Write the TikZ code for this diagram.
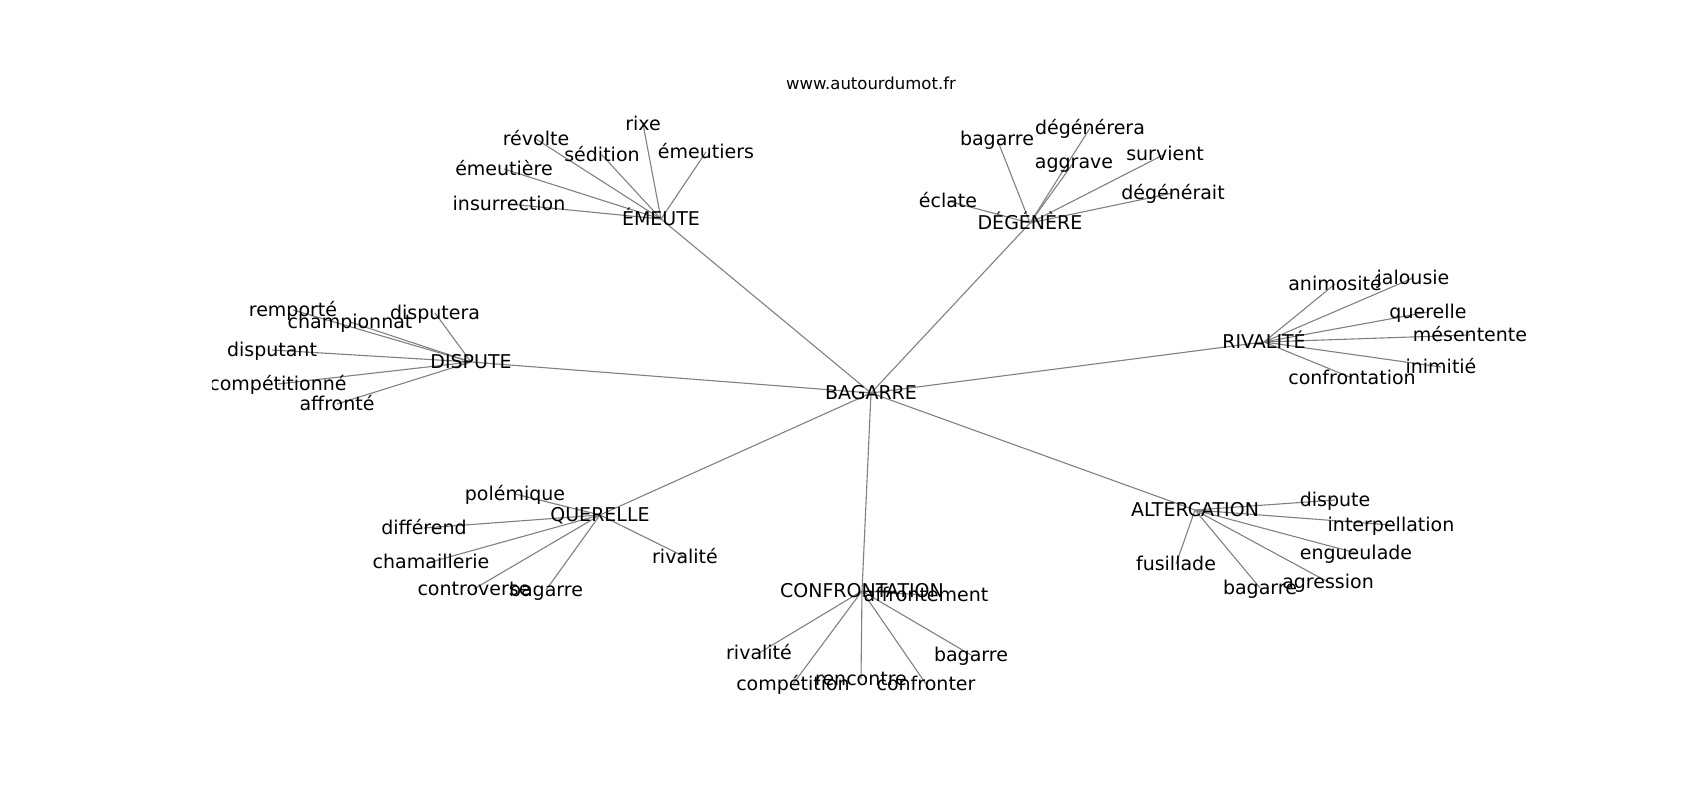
\documentclass[tikz,border=0pt]{standalone}
\usepackage{fontspec}
\setmainfont{DejaVu Sans}
\usetikzlibrary{backgrounds}
\tikzset{
  lbl/.style={inner sep=0pt, anchor=center, text height=1.42em, text depth=0.16em, font=\fontsize{19}{23}\selectfont, text=black},
  ttl/.style={inner sep=0pt, anchor=center, text height=1.36em, text depth=0.16em, font=\fontsize{16.5}{20}\selectfont, text=black},
  edge/.style={draw={rgb,255:red,128;green,128;blue,128}, line width=1.1pt}
}
\begin{document}
\begin{tikzpicture}[x=1pt,y=-1pt]
\useasboundingbox (0,0) rectangle (1700,800);
\node[ttl] (title) at (871,83) {www.autourdumot.fr};
\begin{scope}
\clip (212.5,96) rectangle (1530,712);
% centre and hubs
\node[lbl] (B) at (871,393) {BAGARRE};
\node[lbl] (E) at (661,219) {ÉMEUTE};
\node[lbl] (D) at (1030,223) {DÉGÉNÈRE};
\node[lbl] (DI) at (471,362) {DISPUTE};
\node[lbl] (R) at (1264,342) {RIVALITÉ};
\node[lbl] (Q) at (600,515) {QUERELLE};
\node[lbl] (C) at (862,591) {CONFRONTATION};
\node[lbl] (A) at (1195,510) {ALTERCATION};
% ÉMEUTE
\node[lbl] (e1) at (643,124) {rixe};
\node[lbl] (e2) at (536,139) {révolte};
\node[lbl] (e3) at (602,155) {sédition};
\node[lbl] (e4) at (706,152) {émeutiers};
\node[lbl] (e5) at (504,169) {émeutière};
\node[lbl] (e6) at (509,204) {insurrection};
% DÉGÉNÈRE
\node[lbl] (d1) at (997,139) {bagarre};
\node[lbl] (d2) at (1090,128) {dégénérera};
\node[lbl] (d3) at (1074,162) {aggrave};
\node[lbl] (d4) at (1165,154) {survient};
\node[lbl] (d5) at (1173,193) {dégénérait};
\node[lbl] (d6) at (948,201) {éclate};
% DISPUTE
\node[lbl] (i1) at (293,310) {remporté};
\node[lbl] (i2) at (350,322) {championnat};
\node[lbl] (i3) at (435,313) {disputera};
\node[lbl] (i4) at (272,350) {disputant};
\node[lbl] (i5) at (278,384) {compétitionné};
\node[lbl] (i6) at (337,404) {affronté};
% RIVALITÉ
\node[lbl] (r1) at (1335,284) {animosité};
\node[lbl] (r2) at (1413,278) {jalousie};
\node[lbl] (r3) at (1428,312) {querelle};
\node[lbl] (r4) at (1470,335) {mésentente};
\node[lbl] (r5) at (1441,367) {inimitié};
\node[lbl] (r6) at (1352,378) {confrontation};
% QUERELLE
\node[lbl] (q1) at (515,494) {polémique};
\node[lbl] (q2) at (424,528) {différend};
\node[lbl] (q3) at (431,562) {chamaillerie};
\node[lbl] (q4) at (474,589) {controverse};
\node[lbl] (q5) at (546,590) {bagarre};
\node[lbl] (q6) at (685,557) {rivalité};
% CONFRONTATION
\node[lbl] (c1) at (926,595) {affrontement};
\node[lbl] (c2) at (759,653) {rivalité};
\node[lbl] (c3) at (793,684) {compétition};
\node[lbl] (c4) at (861,679) {rencontre};
\node[lbl] (c5) at (926,684) {confronter};
\node[lbl] (c6) at (971,655) {bagarre};
% ALTERCATION
\node[lbl] (a1) at (1335,500) {dispute};
\node[lbl] (a2) at (1391,525) {interpellation};
\node[lbl] (a3) at (1356,553) {engueulade};
\node[lbl] (a4) at (1328,582) {agression};
\node[lbl] (a5) at (1260,588) {bagarre};
\node[lbl] (a6) at (1176,564) {fusillade};
\end{scope}
\begin{pgfonlayer}{background}
\foreach \h in {E,D,DI,R,Q,C,A} \draw[edge] (B.center) -- (\h.center);
\foreach \n in {e1,e2,e3,e4,e5,e6} \draw[edge] (E.center) -- (\n.center);
\foreach \n in {d1,d2,d3,d4,d5,d6} \draw[edge] (D.center) -- (\n.center);
\foreach \n in {i1,i2,i3,i4,i5,i6} \draw[edge] (DI.center) -- (\n.center);
\foreach \n in {r1,r2,r3,r4,r5,r6} \draw[edge] (R.center) -- (\n.center);
\foreach \n in {q1,q2,q3,q4,q5,q6} \draw[edge] (Q.center) -- (\n.center);
\foreach \n in {c1,c2,c3,c4,c5,c6} \draw[edge] (C.center) -- (\n.center);
\foreach \n in {a1,a2,a3,a4,a5,a6} \draw[edge] (A.center) -- (\n.center);
\end{pgfonlayer}
\end{tikzpicture}
\end{document}
